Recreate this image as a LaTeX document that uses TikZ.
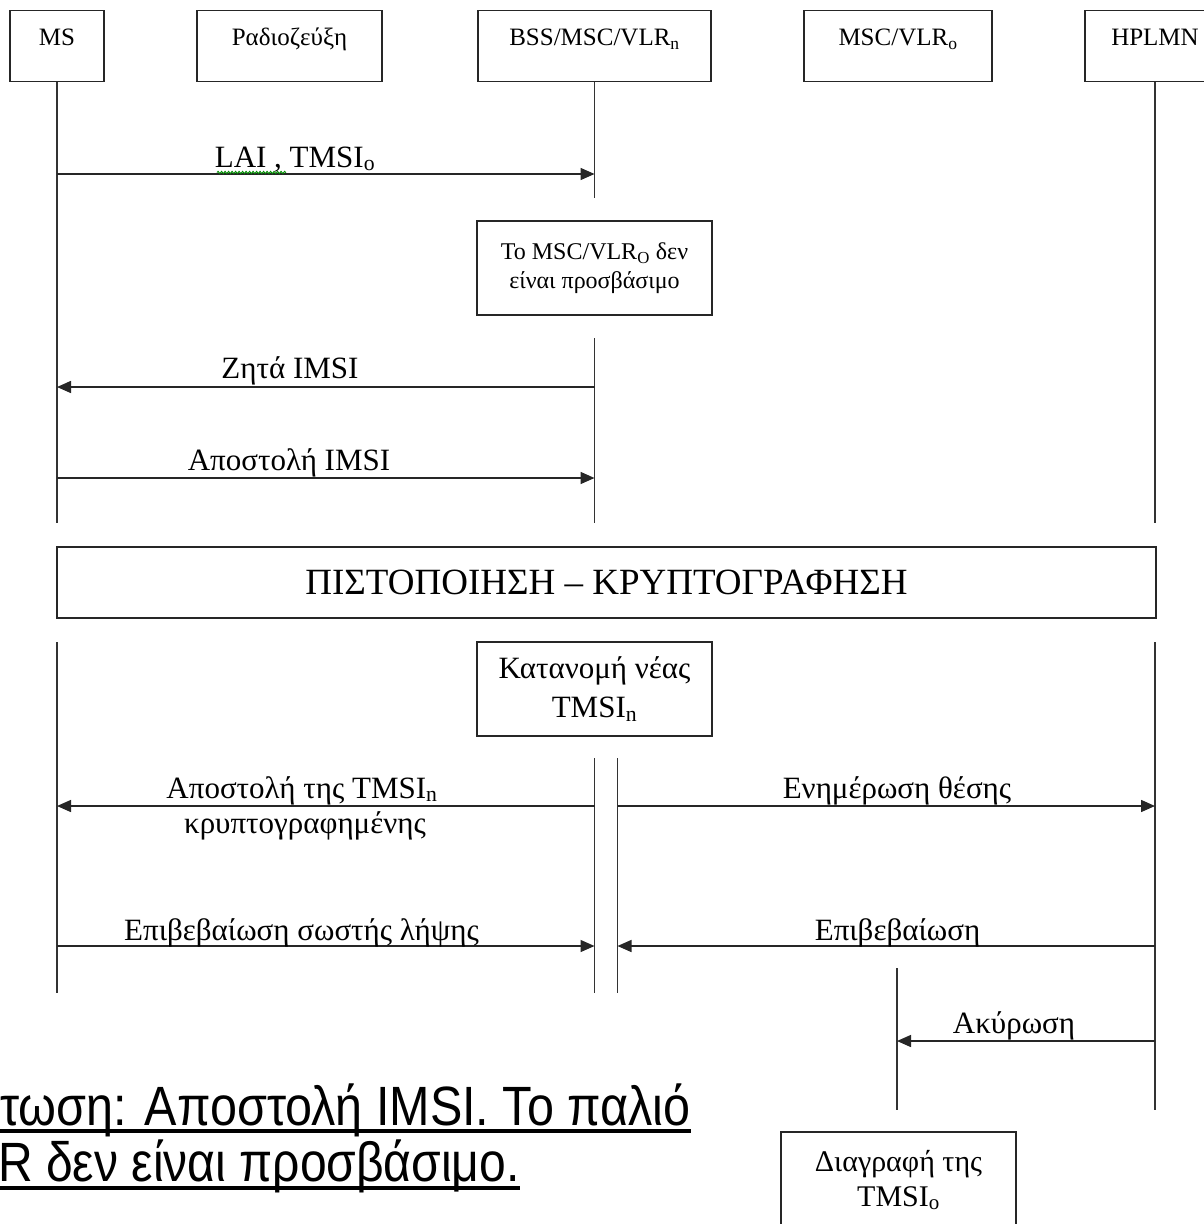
\documentclass[tikz,border=0pt]{standalone}
\usepackage{fontspec}
\usepackage{graphicx}
\setmainfont{Liberation Serif}
\newfontfamily\slidesans{Liberation Sans}
\usetikzlibrary{arrows.meta,decorations.pathmorphing}
\newcommand\headfont{\fontsize{25}{30}\selectfont}
\newcommand\lblfont{\fontsize{31}{35}\selectfont}
\newcommand\smallboxfont{\fontsize{24}{29}\selectfont}
\newcommand\boxfont{\fontsize{31}{39}\selectfont}
\newcommand\delfont{\fontsize{30}{35}\selectfont}
\newcommand\bandfont{\fontsize{37}{40}\selectfont}
\newcommand\slidefont{\slidesans\fontsize{49}{55}\selectfont}
\newcommand\slidetext[2]{\scalebox{#1}[1.13]{#2}}
\begin{document}
\begin{tikzpicture}[x=1pt,y=-1pt,
  head/.style={draw=black!85, line width=1.4pt, inner sep=0pt,
    text height=35pt, text depth=36pt, anchor=north, font=\headfont},
  life/.style={line width=1.4pt, draw=black!80},
  msg/.style={line width=1.5pt, draw=black!85,
    -{Triangle[length=14pt,width=12pt]}},
  lbl/.style={anchor=base, inner sep=0pt, font=\lblfont},
  notebox/.style={draw=black!85, line width=1.4pt, inner sep=0pt,
    minimum width=235pt, minimum height=94pt, align=center},
  caption/.style={inner sep=0pt, anchor=base west, font=\slidefont},
  captionline/.style={line width=3.5pt}]
\useasboundingbox (0,0) rectangle (1204,1224);
\clip (0,0) rectangle (1204,1224);
\fill[white] (0,0) rectangle (1204,1224);

% participants
\node[head, minimum width=94pt]  (ms)    at (57,10)    {MS};
\node[head, minimum width=185pt] (radio) at (289.5,10) {Ραδιοζεύξη};
\node[head, minimum width=233pt] (bss)   at (594.5,10) {BSS/MSC/VLR\textsubscript{n}};
\node[head, minimum width=188pt] (old)   at (898,10)   {MSC/VLR\textsubscript{o}};
\node[head, minimum width=140pt] (hplmn) at (1155,10)  {HPLMN};

% lifeline end points
\coordinate (msA)   at (57,523);
\coordinate (msB)   at (57,642);   \coordinate (msC)   at (57,993);
\coordinate (bssA)  at (594.5,198);
\coordinate (bssB)  at (594.5,338); \coordinate (bssC)  at (594.5,523);
\coordinate (bssD)  at (594.5,758); \coordinate (bssE)  at (594.5,993);
\coordinate (bssF)  at (617.5,758); \coordinate (bssG)  at (617.5,993);
\coordinate (hpA)   at (1155,523);
\coordinate (hpB)   at (1155,642);  \coordinate (hpC)   at (1155,1110);
\coordinate (oldA)  at (897,968);   \coordinate (oldB)  at (897,1110);

% lifelines
\draw[life] (ms.south) -- (msA);
\draw[life] (msB) -- (msC);
\draw[life] (bss.south) -- (bssA);
\draw[life] (bssB) -- (bssC);
\draw[life] (bssD) -- (bssE);
\draw[life] (bssF) -- (bssG);
\draw[life] (hplmn.south) -- (hpA);
\draw[life] (hpB) -- (hpC);
\draw[life] (oldA) -- (oldB);

% process boxes
\node[notebox, font=\smallboxfont] (unreach) at (594.5,268)
  {Το MSC/VLR\textsubscript{O} δεν\\είναι προσβάσιμο};
\node[draw=black!85, line width=1.4pt, minimum width=1099pt, minimum height=71pt,
  inner sep=0pt, font=\bandfont] (auth) at (606.5,582.5)
  {ΠΙΣΤΟΠΟΙΗΣΗ – ΚΡΥΠΤΟΓΡΑΦΗΣΗ};
\node[notebox, font=\boxfont] (alloc) at (594.5,689)
  {Κατανομή νέας\\TMSI\textsubscript{n}};
\node[notebox, minimum height=96pt, font=\delfont] (delete) at (898.5,1180)
  {Διαγραφή της\\TMSI\textsubscript{o}};

% message end points
\coordinate (m1a) at (57,174);     \coordinate (m1b) at (594.5,174);
\coordinate (m2a) at (594.5,387);  \coordinate (m2b) at (57,387);
\coordinate (m3a) at (57,478);     \coordinate (m3b) at (594.5,478);
\coordinate (m4a) at (594.5,806);  \coordinate (m4b) at (57,806);
\coordinate (m5a) at (617.5,806);  \coordinate (m5b) at (1155,806);
\coordinate (m6a) at (57,946);     \coordinate (m6b) at (594.5,946);
\coordinate (m7a) at (1155,946);   \coordinate (m7b) at (617.5,946);
\coordinate (m8a) at (1155,1041);  \coordinate (m8b) at (897,1041);

% messages
\draw[msg] (m1a) -- (m1b);
\draw[msg] (m2a) -- (m2b);
\draw[msg] (m3a) -- (m3b);
\draw[msg] (m4a) -- (m4b);
\draw[msg] (m5a) -- (m5b);
\draw[msg] (m6a) -- (m6b);
\draw[msg] (m7a) -- (m7b);
\draw[msg] (m8a) -- (m8b);

% message labels
\node[lbl] (t1) at (295,167) {LAI , TMSI\textsubscript{o}};
\draw[green!55!black, line width=0.9pt, decorate,
  decoration={snake, amplitude=1.2pt, segment length=3.5pt}]
  (217,172.5) -- (286,172.5);
\node[lbl] (t2) at (290,378) {Ζητά IMSI};
\node[lbl] (t3) at (289,470) {Αποστολή IMSI};
\node[lbl] (t4) at (302,798) {Αποστολή της TMSI\textsubscript{n}};
\node[lbl] (t4b) at (305,833) {κρυπτογραφημένης};
\node[lbl] (t5) at (897,798) {Ενημέρωση θέσης};
\node[lbl] (t6) at (301.5,940) {Επιβεβαίωση σωστής λήψης};
\node[lbl] (t7) at (897.5,940) {Επιβεβαίωση};
\node[lbl] (t8) at (1014,1033) {Ακύρωση};

% caption text, underlined
\node[caption] (cap1) at (0,1125)
  {\slidetext{0.99}{τωση: Αποστολή IMSI. Το παλιό}};
\node[caption] (cap2) at (-2,1181)
  {\slidetext{0.98}{R δεν είναι προσβάσιμο.}};
\draw[captionline] ([yshift=-6pt]cap1.base west) -- ([yshift=-6pt]cap1.base east);
\draw[captionline] ([yshift=-7pt]cap2.base west) -- ([yshift=-7pt]cap2.base east);
\end{tikzpicture}
\end{document}
